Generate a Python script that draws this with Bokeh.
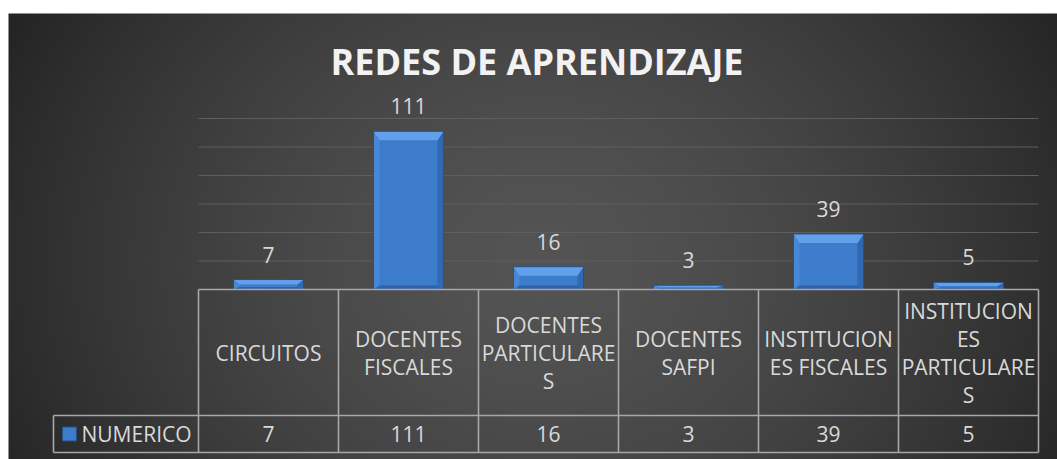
import numpy as np
from bokeh.plotting import figure
from bokeh.models import Range1d
from bokeh.core.properties import value
from bokeh.embed import file_html
from bokeh.resources import INLINE

# ---------------- data ----------------
categories = ["CIRCUITOS", "DOCENTES FISCALES", "DOCENTES PARTICULARES",
              "DOCENTES SAFPI", "INSTITUCIONES FISCALES", "INSTITUCIONES PARTICULARES"]
category_labels = ["CIRCUITOS", "DOCENTES\nFISCALES", "DOCENTES\nPARTICULARE\nS",
                   "DOCENTES\nSAFPI", "INSTITUCION\nES FISCALES",
                   "INSTITUCION\nES\nPARTICULARE\nS"]
numerico = [7, 111, 16, 3, 39, 5]
y_ticks = [0, 20, 40, 60, 80, 100, 120]
series_name = "NUMERICO"
title_text = "REDES DE APRENDIZAJE"

# ---------------- layout (page pixels) ----------------
W, H = 1057, 459
PAGE0 = 0
COL0 = 198          # left edge of first category column (page px)
COLW = 140          # column width (px)
BASE = 289          # zero line (page px)
PXV = 1.425         # px per value unit
TOPWHITE = 13       # dark background starts here (page px)
LEFTWHITE = 8


def u_of(px):
    return (px - COL0) / COLW


def v_of(py):
    return (BASE - py) / PXV


x_start, x_end = u_of(PAGE0), u_of(PAGE0 + W)
y_top, y_bot = v_of(PAGE0), v_of(PAGE0 + H)

FONT = value("Open Sans")
TXT = "#d9d9d9"

p = figure(width=W, height=H, x_range=Range1d(x_start, x_end),
           y_range=Range1d(y_bot, y_top), min_border=0,
           toolbar_location=None, output_backend="svg",
           x_axis_location=None, y_axis_location=None,
           outline_line_color=None, background_fill_color="white",
           border_fill_color="white")
p.grid.visible = False

# ---------------- background gradient ----------------
img_h = PAGE0 + H - TOPWHITE
img_w = PAGE0 + W - LEFTWHITE
xs = np.arange(img_w) + LEFTWHITE + 0.5
ys = np.arange(img_h) + TOPWHITE + 0.5
X, Y = np.meshgrid(xs, ys)
d = np.sqrt(((X - 540) / 620.0) ** 2 + ((Y - 260) / 520.0) ** 2)
t = np.clip(d, 0, 1) ** 1.5
c = (84 - 50 * t).astype(np.uint8)
rgba = np.empty((img_h, img_w, 4), dtype=np.uint8)
rgba[..., 0] = c
rgba[..., 1] = c
rgba[..., 2] = c
rgba[..., 3] = 255
img = rgba.view(dtype=np.uint32).reshape(img_h, img_w)[::-1]
p.image_rgba(image=[img], x=u_of(LEFTWHITE), y=y_bot,
             dw=img_w / COLW, dh=img_h / PXV)

n = len(categories)
centers = np.arange(n) + 0.5

# ---------------- gridlines ----------------
gl = y_ticks[1:]
p.segment(x0=[0] * len(gl), x1=[n] * len(gl), y0=gl, y1=gl,
          line_color="#5e5e5e", line_width=1.2)

# ---------------- bars with bevel ----------------
BW = 0.5
face = "#3d7bcb"
p.vbar(x=centers, width=BW, top=numerico, bottom=0, fill_color=face,
       line_color=None)

tops_x, tops_y, lefts_x, lefts_y, rights_x, rights_y, bots_x, bots_y = ([] for _ in range(8))
for cx, v in zip(centers, numerico):
    l, r = cx - BW / 2, cx + BW / 2
    bx = 6.0 / COLW
    tv = min(9.0 / PXV, 0.5 * v)
    bv = min(4.0 / PXV, 0.25 * v)
    tops_x.append([l, r, r - bx, l + bx])
    tops_y.append([v, v, v - tv, v - tv])
    lefts_x.append([l, l + bx, l + bx, l])
    lefts_y.append([v, v - tv, bv, 0])
    rights_x.append([r, r - bx, r - bx, r])
    rights_y.append([v, v - tv, bv, 0])
    bots_x.append([l, r, r - bx, l + bx])
    bots_y.append([0, 0, bv, bv])

p.patches(lefts_x, lefts_y, fill_color="#4787d7", line_color=None)
p.patches(rights_x, rights_y, fill_color="#3168b4", line_color=None)
p.patches(bots_x, bots_y, fill_color="#2f62a8", line_color=None)
p.patches(tops_x, tops_y, fill_color="#63a0ea", line_color=None)
p.vbar(x=centers, width=BW, top=numerico, bottom=0, fill_color=None,
       line_color="#24508c", line_width=1)

# ---------------- data labels ----------------
p.text(x=centers, y=numerico, text=[str(v) for v in numerico],
       y_offset=-25, text_align="center", text_baseline="middle",
       text_font=FONT, text_font_size="21px", text_color=TXT)

# ---------------- title ----------------
p.text(x=[u_of(536.5)], y=[v_of(61)], text=[title_text],
       text_align="center", text_baseline="middle", text_font=FONT,
       text_font_size="36px", text_font_style="bold", text_color="#f2f2f2")

# ---------------- data table ----------------
v_mid = v_of(415)
v_end = v_of(452)
u_leg = u_of(53)
LC = "#a8a8a8"
hx0 = [0, u_leg, u_leg]
hx1 = [n, n, n]
hy = [0, v_mid, v_end]
p.segment(x0=hx0, x1=hx1, y0=hy, y1=hy, line_color=LC, line_width=1.6)
vx = list(range(n + 1))
p.segment(x0=vx, x1=vx, y0=[0] * len(vx), y1=[v_end] * len(vx),
          line_color=LC, line_width=1.6)
p.segment(x0=[u_leg], x1=[u_leg], y0=[v_mid], y1=[v_end],
          line_color=LC, line_width=1.6)

p.text(x=centers, y=[v_of(352)] * n, text=category_labels,
       text_align="center", text_baseline="middle", text_line_height=1.0,
       text_font=FONT, text_font_size="21px", text_color=TXT)
row_y = (v_mid + v_end) / 2
p.text(x=centers, y=[row_y] * n, text=[str(v) for v in numerico],
       text_align="center", text_baseline="middle",
       text_font=FONT, text_font_size="21px", text_color=TXT)

# legend cell
p.scatter(x=[u_of(69)], y=[row_y], marker="square", size=14,
          fill_color=face, line_color="#24508c")
p.text(x=[u_of(81)], y=[row_y], text=[series_name], text_align="left",
       text_baseline="middle", text_font=FONT, text_font_size="21px",
       text_color=TXT)

open("out.html", "w").write(file_html(p, INLINE))
